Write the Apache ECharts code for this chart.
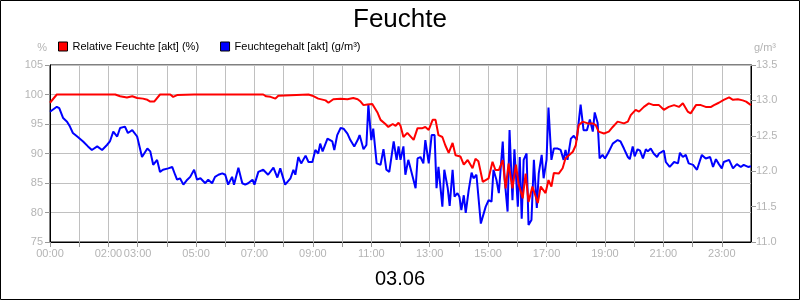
<!DOCTYPE html>
<html>

<head>
	<meta charset="UTF-8" />
	<title>Feuchte</title>
	<style type="text/css">
		* {
			margin: 0;
			padding: 0;
		}

		#main {
			width: 800px;
			height: 300px;
			background-color: #fff;
		}
	</style>
</head>

<body>
	<div id="main"></div>
</body>
<script src="https://cdn.jsdelivr.net/npm/echarts@6/dist/echarts.min.js"></script>
<script type="text/javascript">
	// Zeit in Minuten seit 00:00, Wert
	var relFeuchte = [[0, 98.6], [14, 100], [134, 100], [144, 99.7], [158, 99.5], [169, 99.7], [179, 99.4], [191, 99.3],
		[200, 99.1], [206, 98.8], [214, 98.8], [226, 100], [247, 100], [253, 99.6], [261, 99.9], [296, 100], [300, 99.7],
		[307, 100], [350, 100], [354, 99.7], [360, 100], [438, 100], [444, 99.7], [453, 99.6], [463, 99.3], [469, 99.8],
		[473, 100], [531, 100], [539, 99.8], [551, 99.3], [566, 99.0], [572, 98.6], [582, 99.2], [597, 99.3], [611, 99.2],
		[623, 99.4], [632, 99.2], [638, 98.8], [644, 98.2], [652, 98.3], [662, 98.4], [673, 96.9], [679, 95.7], [689, 95.0],
		[695, 94.5], [704, 95.0], [710, 94.7], [716, 95.2], [720, 94.7], [726, 92.8], [734, 93.5], [747, 92.3], [755, 94.3],
		[765, 94.3], [771, 94.5], [778, 94.0], [786, 95.7], [792, 95.7], [798, 93.1], [806, 92.8], [812, 91.4], [819, 90.1],
		[827, 91.8], [833, 89.7], [843, 89.5], [850, 88.1], [858, 88.9], [868, 87.5], [874, 89.1], [880, 88.7], [889, 85.2],
		[901, 85.8], [909, 88.6], [915, 87.2], [922, 87.2], [930, 88.9], [936, 84.1], [942, 88.3], [950, 84.1], [957, 88.1],
		[963, 84.7], [971, 82.4], [977, 86.6], [983, 81.8], [991, 84.4], [1002, 81.6], [1008, 84.4], [1018, 83.3],
		[1024, 85.5], [1030, 84.4], [1035, 86.7], [1045, 86.6], [1053, 87.5], [1059, 89.2], [1066, 89.7], [1074, 90.3],
		[1080, 91.4], [1086, 94.8], [1094, 95.4], [1105, 95.1], [1115, 95.1], [1121, 94.8], [1127, 93.7], [1138, 93.4],
		[1148, 93.7], [1156, 94.5], [1166, 95.4], [1179, 95.1], [1187, 95.4], [1193, 96.5], [1203, 97.4], [1210, 97.1],
		[1220, 97.9], [1230, 98.5], [1240, 98.2], [1251, 98.2], [1261, 97.4], [1271, 97.9], [1282, 98.2], [1292, 97.9],
		[1300, 98.5], [1310, 97.1], [1316, 96.8], [1327, 98.2], [1337, 98.2], [1347, 97.9], [1358, 97.9], [1364, 98.2],
		[1374, 98.6], [1384, 99.1], [1395, 99.5], [1403, 99.1], [1413, 99.2], [1423, 99.0], [1430, 98.8], [1440, 98.2]]

	var feuchtegehalt = [[0, 12.84], [4, 12.86], [14, 12.91], [19, 12.89], [27, 12.75], [35, 12.70], [41, 12.63],
		[47, 12.54], [56, 12.49], [60, 12.49], [68, 12.42], [78, 12.35], [86, 12.30], [97, 12.35], [107, 12.30], [117, 12.37],
		[123, 12.42], [130, 12.56], [138, 12.49], [144, 12.61], [154, 12.63], [160, 12.54], [169, 12.58], [179, 12.49],
		[189, 12.20], [200, 12.32], [206, 12.28], [212, 12.09], [220, 12.16], [226, 11.99], [232, 12.02], [243, 12.04],
		[251, 12.06], [257, 11.95], [261, 11.88], [267, 11.90], [274, 11.81], [282, 11.88], [288, 11.92], [292, 11.90],
		[296, 12.02], [302, 11.88], [309, 11.90], [319, 11.83], [325, 11.88], [333, 11.83], [339, 11.92], [346, 11.95],
		[354, 11.97], [360, 11.95], [366, 11.81], [374, 11.92], [378, 11.81], [387, 12.05], [395, 11.83], [401, 11.81],
		[407, 11.83], [416, 11.88], [420, 11.81], [428, 11.99], [438, 12.02], [448, 11.95], [459, 12.05], [467, 11.91],
		[473, 12.04], [483, 11.81], [494, 11.90], [500, 12.02], [504, 11.95], [510, 12.20], [516, 12.11], [525, 12.22],
		[531, 12.13], [539, 12.13], [545, 12.30], [551, 12.25], [555, 12.39], [560, 12.28], [570, 12.46], [580, 12.42],
		[584, 12.30], [590, 12.51], [597, 12.61], [603, 12.60], [611, 12.53], [617, 12.44], [625, 12.35], [632, 12.44],
		[636, 12.51], [644, 12.31], [650, 12.37], [654, 12.94], [660, 12.44], [664, 12.60], [671, 12.11], [675, 12.13],
		[679, 12.09], [685, 12.31], [691, 12.02], [697, 11.99], [706, 12.42], [712, 12.16], [716, 12.35], [720, 12.16],
		[726, 12.35], [730, 11.95], [736, 12.16], [745, 11.92], [751, 11.76], [755, 12.18], [761, 12.20], [767, 12.11],
		[771, 12.44], [778, 12.11], [784, 12.51], [790, 12.51], [794, 11.76], [798, 12.06], [806, 11.50], [810, 12.02],
		[817, 11.76], [821, 11.51], [827, 12.02], [831, 11.64], [837, 11.69], [841, 11.64], [845, 11.45], [850, 11.66],
		[854, 11.41], [860, 11.73], [866, 11.98], [870, 11.90], [876, 11.95], [885, 11.26], [895, 11.50], [901, 11.59],
		[907, 11.57], [911, 12.02], [917, 11.88], [922, 11.69], [930, 12.42], [934, 11.88], [940, 11.43], [944, 12.58],
		[950, 11.59], [954, 12.31], [961, 11.50], [965, 12.20], [969, 11.33], [973, 12.16], [979, 12.25], [983, 11.24],
		[989, 11.31], [994, 12.16], [1000, 11.48], [1004, 11.97], [1010, 12.23], [1014, 11.90], [1020, 12.16], [1024, 12.90],
		[1026, 12.89], [1030, 12.16], [1035, 12.32], [1043, 12.32], [1049, 12.30], [1055, 12.16], [1059, 12.30],
		[1063, 12.16], [1070, 12.46], [1076, 12.50], [1082, 12.44], [1090, 12.94], [1096, 12.58], [1103, 12.58],
		[1109, 12.73], [1115, 12.56], [1119, 12.83], [1125, 12.68], [1129, 12.18], [1135, 12.23], [1140, 12.18],
		[1146, 12.25], [1150, 12.23], [1156, 12.39], [1166, 12.44], [1172, 12.42], [1179, 12.32], [1187, 12.20],
		[1191, 12.17], [1197, 12.35], [1201, 12.21], [1207, 12.31], [1212, 12.29], [1218, 12.18], [1224, 12.31],
		[1228, 12.28], [1234, 12.32], [1240, 12.25], [1247, 12.20], [1251, 12.25], [1261, 12.29], [1265, 12.13],
		[1273, 12.06], [1282, 12.13], [1290, 12.11], [1294, 12.26], [1300, 12.20], [1306, 12.23], [1312, 12.11],
		[1321, 12.09], [1329, 12.02], [1339, 12.23], [1347, 12.18], [1356, 12.20], [1362, 12.06], [1368, 12.17],
		[1374, 12.10], [1380, 12.04], [1384, 12.13], [1395, 12.16], [1403, 12.04], [1411, 12.10], [1419, 12.06],
		[1425, 12.09], [1434, 12.06], [1440, 12.07]]

	// beschriftete Stunden der x-Achse
	var xLabels = ['00:00', '02:00', '03:00', '05:00', '07:00', '09:00', '11:00', '13:00', '15:00', '17:00', '19:00', '21:00', '23:00']

	var font = 'Liberation Sans, Arial, sans-serif'
	var grau = '#b4b4b4'

	var myChart = echarts.init(document.getElementById('main'))

	function hhmm(v) {
		var h = Math.floor(v / 60)
		return (h < 10 ? '0' : '') + h + ':00'
	}

	var option = {
		animation: false,
		backgroundColor: '#fff',
		textStyle: { fontFamily: font },
		title: [{
			text: 'Feuchte',
			left: 'center',
			top: 2,
			textStyle: { fontFamily: font, fontSize: 26, fontWeight: 'normal', color: '#000' }
		}, {
			text: '03.06',
			left: 'center',
			top: 264,
			textStyle: { fontFamily: font, fontSize: 20, fontWeight: 'normal', color: '#000' }
		}],
		legend: {
			left: 53,
			top: 36,
			icon: 'rect',
			itemWidth: 9,
			itemHeight: 9,
			itemGap: 21,
			data: ['Relative Feuchte [akt] (%)', 'Feuchtegehalt [akt] (g/m³)'],
			itemStyle: { borderColor: '#000', borderWidth: 1 },
			textStyle: { fontFamily: font, fontSize: 11, color: '#000' }
		},
		grid: {
			left: 50,
			right: 49,
			top: 65,
			bottom: 58,
			show: true,
			borderColor: '#000',
			borderWidth: 1
		},
		xAxis: {
			type: 'value',
			min: 0,
			max: 1440,
			interval: 60,
			axisLine: { show: true, lineStyle: { color: '#000' } },
			axisTick: { show: true, length: 5, lineStyle: { color: '#999' } },
			axisLabel: {
				color: grau,
				fontSize: 11,
				margin: 6,
				showMaxLabel: false,
				formatter: function (v) {
					var s = hhmm(v)
					return xLabels.indexOf(s) >= 0 ? s : ''
				}
			},
			splitLine: { show: true, lineStyle: { color: '#c0c0c0', width: 1 } }
		},
		yAxis: [{
			type: 'value',
			min: 75,
			max: 105,
			interval: 5,
			position: 'left',
			name: '%',
			nameGap: 12,
			nameTextStyle: { color: grau, fontSize: 11, align: 'right', padding: [0, 3, 0, 0] },
			axisLine: { show: true, lineStyle: { color: '#000' } },
			axisTick: { show: true, length: 5, lineStyle: { color: '#999' } },
			axisLabel: { color: grau, fontSize: 11, margin: 7 },
			splitLine: { show: true, lineStyle: { color: '#c0c0c0', width: 1 } }
		}, {
			type: 'value',
			min: 11,
			max: 13.5,
			interval: 0.5,
			position: 'right',
			name: 'g/m³',
			nameGap: 12,
			nameTextStyle: { color: grau, fontSize: 11, align: 'left', padding: [0, 0, 0, 3] },
			axisLine: { show: true, lineStyle: { color: '#000' } },
			axisTick: { show: true, length: 5, lineStyle: { color: '#999' } },
			axisLabel: {
				color: grau,
				fontSize: 11,
				margin: 5,
				formatter: function (v) { return v.toFixed(1) }
			},
			splitLine: { show: false }
		}],
		series: [{
			name: 'Feuchtegehalt [akt] (g/m³)',
			type: 'line',
			yAxisIndex: 1,
			showSymbol: false,
			color: '#0000ff',
			lineStyle: { color: '#0000ff', width: 2 },
			z: 2,
			data: feuchtegehalt
		}, {
			name: 'Relative Feuchte [akt] (%)',
			type: 'line',
			yAxisIndex: 0,
			showSymbol: false,
			color: '#ff0000',
			lineStyle: { color: '#ff0000', width: 2 },
			z: 3,
			data: relFeuchte
		}],
		graphic: [{
			type: 'rect',
			shape: { x: 0.5, y: 0.5, width: 799, height: 299 },
			style: { fill: 'none', stroke: '#000', lineWidth: 1 },
			silent: true
		}]
	}
	myChart.setOption(option)
</script>

</html>
